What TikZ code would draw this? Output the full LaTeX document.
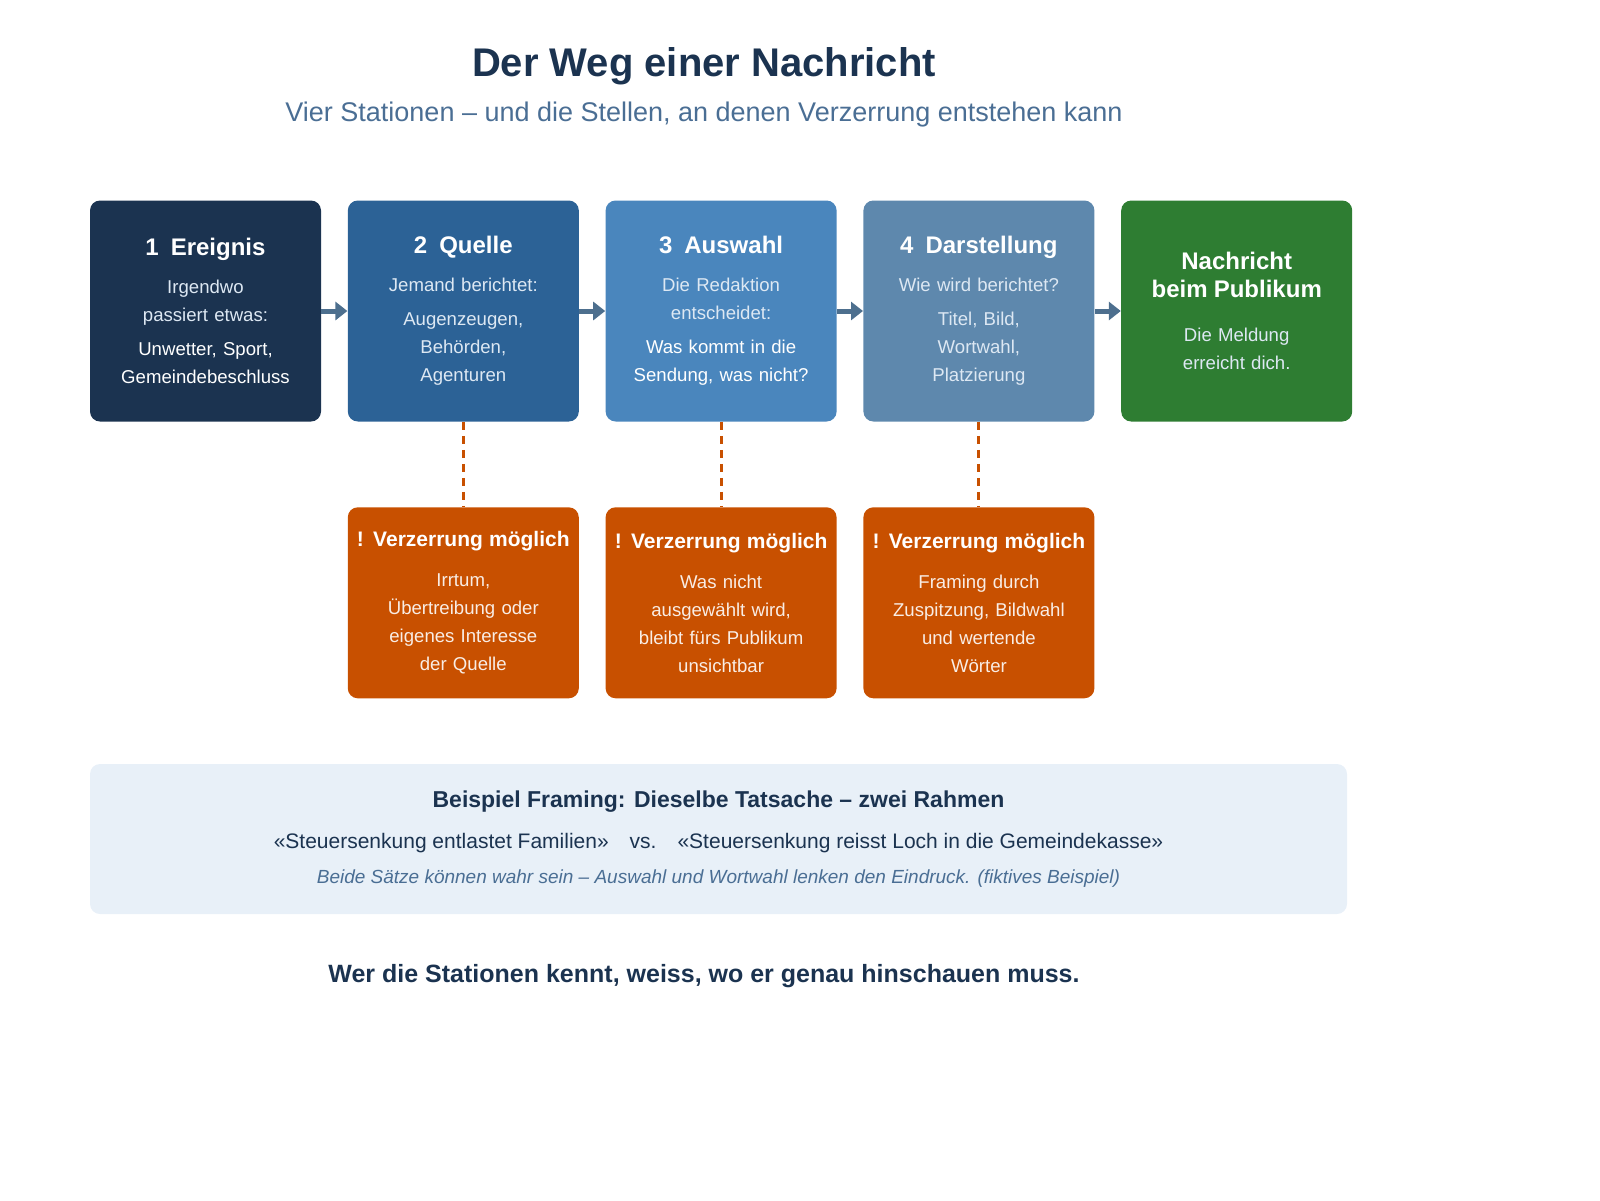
\documentclass[tikz,border=0pt]{standalone}
\usepackage{fontspec}
\setmainfont{Liberation Sans}
\usetikzlibrary{positioning,arrows.meta}
\definecolor{navy}{HTML}{1B3350}
\definecolor{midblue}{HTML}{2C6296}
\definecolor{lightblue}{HTML}{4A86BD}
\definecolor{greyblue}{HTML}{5E88AD}
\definecolor{okgreen}{HTML}{2E7D32}
\definecolor{warnorange}{HTML}{C85000}
\definecolor{paleblue}{HTML}{E8F0F8}
\definecolor{subgrey}{HTML}{4A6E94}
\definecolor{arrowgrey}{HTML}{4D6F8E}
\definecolor{bodytext}{HTML}{DDE8F3}
\tikzset{
  station/.style={rectangle, rounded corners=5pt, minimum width=115.5pt, minimum height=110.5pt,
    text width=110pt, align=center, inner sep=0pt, font=\fontsize{9.3}{14}\selectfont, text=bodytext},
  warnbox/.style={station, fill=warnorange, minimum height=95.5pt, text=white!90!warnorange},
  head/.style={font=\fontsize{12}{16}\selectfont\bfseries},
  flow/.style={draw=arrowgrey, line width=2.5pt, -{Triangle[length=6pt,width=9pt]}},
  risk/.style={draw=warnorange, line width=1.5pt, dash pattern=on 4pt off 3pt}
}
\newcommand{\headline}[1]{{\fontsize{12}{16}\selectfont\bfseries\color{white}#1}\\[5pt]}
\begin{document}
\begin{tikzpicture}[x=0.5pt,y=-0.5pt]
\useasboundingbox (0,0) rectangle (1600,1200);
\node (title) [font=\fontsize{20}{24}\selectfont\bfseries, text=navy] at (704,66) {Der Weg einer Nachricht};
\node (subtitle) [font=\fontsize{13.5}{16}\selectfont, text=subgrey] at (704,115) {Vier Stationen -- und die Stellen, an denen Verzerrung entstehen kann};

% Stationen
\node (event) [station, fill=navy] at (205.5,311) {\headline{1\enspace Ereignis}Irgendwo\\passiert etwas:\\[3pt]\color{white}Unwetter, Sport,\\Gemeindebeschluss};
\node (source) [station, fill=midblue, right=13pt of event] {\headline{2\enspace Quelle}Jemand berichtet:\\[3pt]Augenzeugen,\\Behörden,\\Agenturen};
\node (select) [station, fill=lightblue, right=13pt of source] {\headline{3\enspace Auswahl}Die Redaktion\\entscheidet:\\[3pt]\color{white}Was kommt in die\\Sendung, was nicht?};
\node (frame) [station, fill=greyblue, right=13pt of select] {\headline{4\enspace Darstellung}Wie wird berichtet?\\[3pt]Titel, Bild,\\Wortwahl,\\Platzierung};
\node (audience) [station, fill=okgreen, right=13pt of frame] {{\fontsize{12}{21}\selectfont\bfseries\color{white}Nachricht\\beim Publikum}\\[8pt]Die Meldung\\erreicht dich.};

% Verzerrung
\node (risksource) [warnbox, below=42.5pt of source] {{\fontsize{10.5}{14}\selectfont\bfseries\color{white}! Verzerrung möglich}\\[6pt]Irrtum,\\Übertreibung oder\\eigenes Interesse\\der Quelle};
\node (riskselect) [warnbox, below=42.5pt of select] {{\fontsize{10.5}{14}\selectfont\bfseries\color{white}! Verzerrung möglich}\\[6pt]Was nicht\\ausgewählt wird,\\bleibt fürs Publikum\\unsichtbar};
\node (riskframe) [warnbox, below=42.5pt of frame] {{\fontsize{10.5}{14}\selectfont\bfseries\color{white}! Verzerrung möglich}\\[6pt]Framing durch\\Zuspitzung, Bildwahl\\und wertende\\Wörter};

% Arrows
\draw[flow] (event) -- (source);
\draw[flow] (source) -- (select);
\draw[flow] (select) -- (frame);
\draw[flow] (frame) -- (audience);
\draw[risk] (source) -- (risksource);
\draw[risk] (select) -- (riskselect);
\draw[risk] (frame) -- (riskframe);

% Beispiel
\node (example) [rectangle, rounded corners=5pt, fill=paleblue, minimum width=628.5pt, minimum height=75pt] at (718.5,839) {};
\node (exhead) [font=\fontsize{11.5}{14}\selectfont\bfseries, text=navy] at (718.5,802) {Beispiel Framing: Dieselbe Tatsache -- zwei Rahmen};
\node (exline) [font=\fontsize{10.5}{14}\selectfont, text=navy] at (718.5,843) {«Steuersenkung entlastet Familien»\quad vs.\quad «Steuersenkung reisst Loch in die Gemeindekasse»};
\node (exnote) [font=\fontsize{9.5}{14}\selectfont\itshape, text=subgrey] at (718.5,879) {Beide Sätze können wahr sein -- Auswahl und Wortwahl lenken den Eindruck. (fiktives Beispiel)};

\node (closing) [font=\fontsize{12.5}{16}\selectfont\bfseries, text=navy] at (704,976) {Wer die Stationen kennt, weiss, wo er genau hinschauen muss.};
\end{tikzpicture}
\end{document}
